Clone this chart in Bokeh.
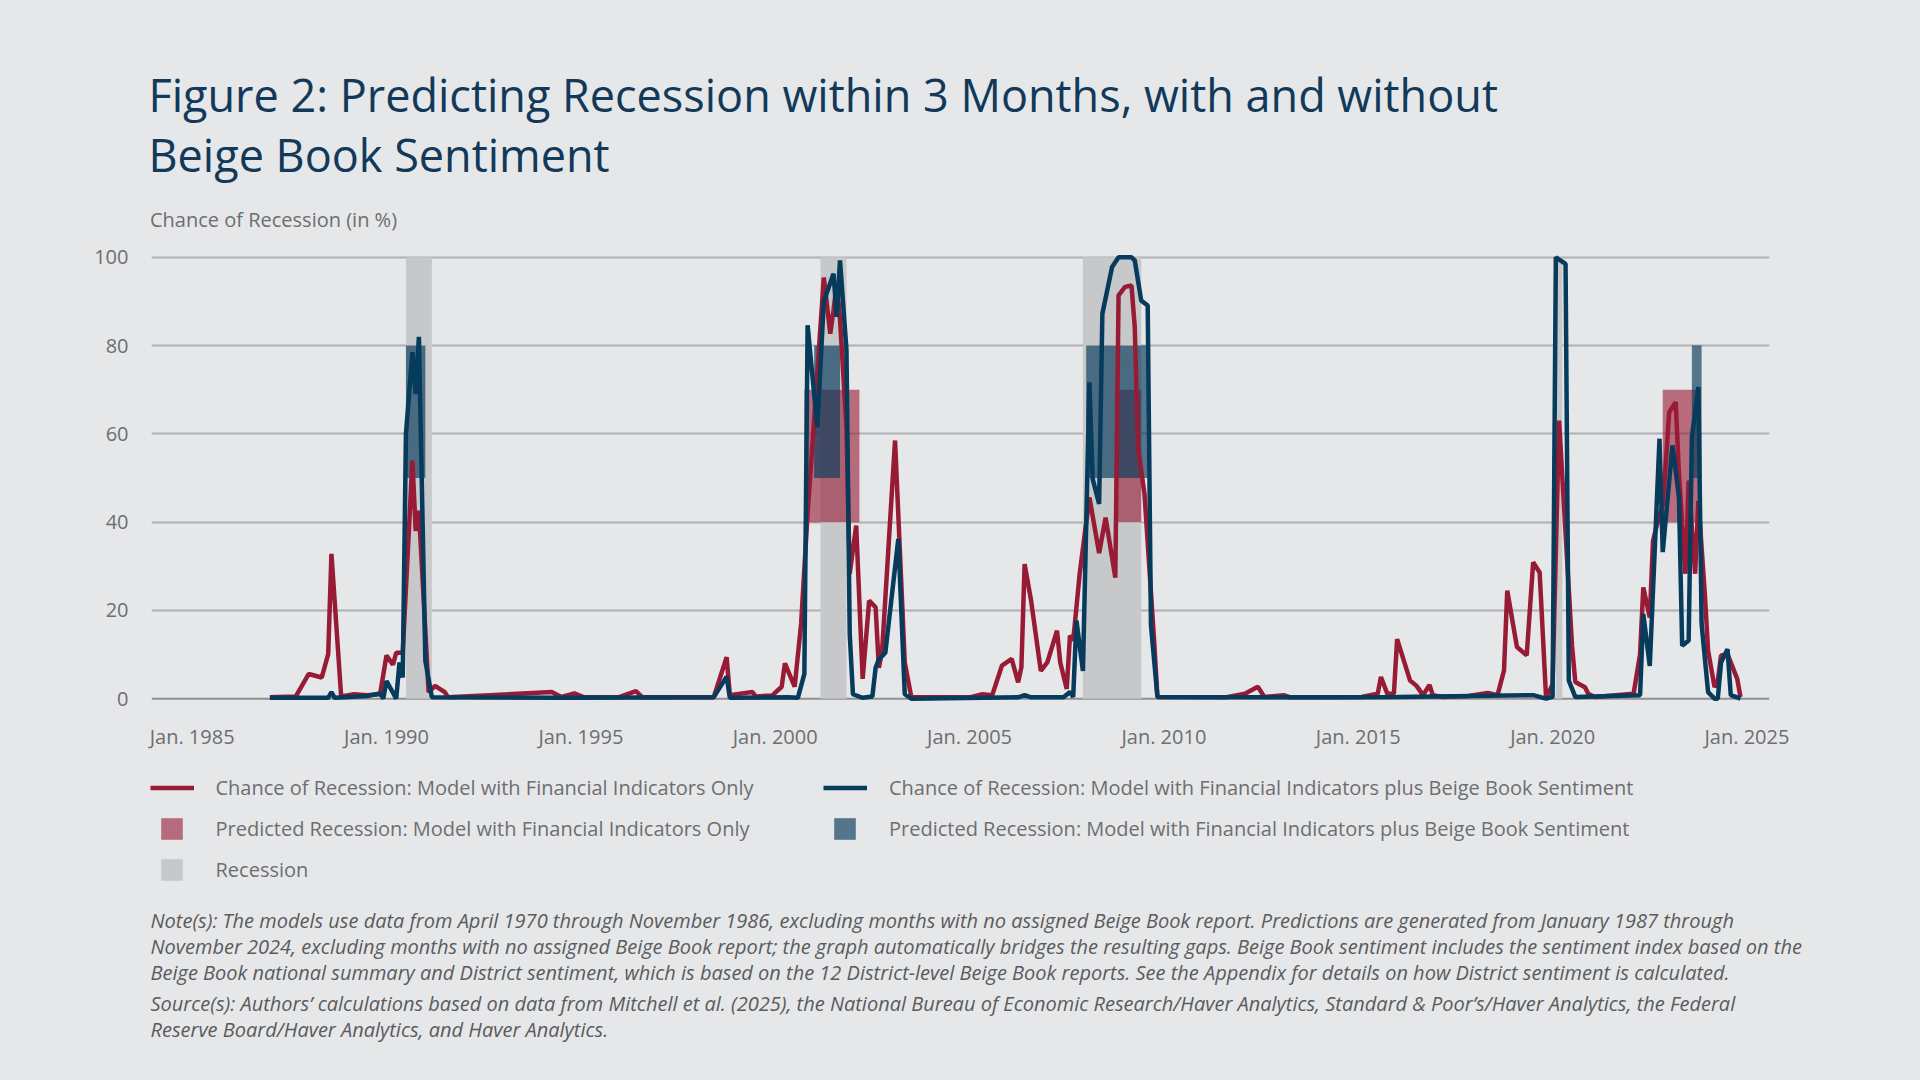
from bokeh.plotting import figure
from bokeh.layouts import column
from bokeh.models import (Range1d, FixedTicker, CustomJSTickFormatter, Span, Label,
                          Legend, LegendItem)
from bokeh.embed import file_html
from bokeh.resources import INLINE

# ---------------- data ----------------
red_dates = ["1987-01","1987-09","1988-01","1988-05","1988-07","1988-08","1988-11","1989-03","1989-07","1989-11",
             "1990-01","1990-03","1990-04","1990-06","1990-09","1990-10","1990-11","1991-02","1991-04","1991-07",
             "1991-08","1994-04","1994-07","1994-11","1995-02","1996-01","1996-06","1996-08","1998-06","1998-10",
             "1998-11","1999-06","1999-07","1999-12","2000-03","2000-04","2000-07","2000-09","2000-11","2001-01",
             "2001-04","2001-06","2001-07","2001-08","2001-09","2001-11","2001-12","2002-02","2002-04","2002-06",
             "2002-08","2002-09","2002-10","2003-02","2003-05","2003-07","2005-01","2005-05","2005-08","2005-11",
             "2006-02","2006-04","2006-05","2006-06","2006-08","2006-11","2007-01","2007-04","2007-05","2007-07",
             "2007-08","2007-09","2007-11","2008-02","2008-05","2008-07","2008-10","2008-11","2009-01","2009-03",
             "2009-04","2009-05","2009-07","2009-10","2009-11","2011-08","2012-02","2012-06","2012-08","2013-02",
             "2013-04","2015-02","2015-07","2015-08","2015-10","2015-12","2016-01","2016-05","2016-07","2016-09",
             "2016-11","2016-12","2017-03","2017-11","2018-05","2018-08","2018-10","2018-11","2019-02","2019-05",
             "2019-07","2019-09","2019-11","2020-01","2020-03","2020-07","2020-08","2020-11","2020-12","2021-02",
             "2022-02","2022-04","2022-05","2022-07","2022-08","2022-09","2022-11","2022-12","2023-01","2023-03",
             "2023-04","2023-06","2023-07","2023-09","2023-10","2023-12","2024-01","2024-03","2024-04","2024-05",
             "2024-07","2024-10","2024-11"]
red_vals = [0.3, 0.5, 5.6, 4.8, 10.1, 32.8, 0.5, 1.0, 0.8, 1.0,
            9.8, 7.7, 10.4, 10.4, 54.0, 38.0, 42.6, 1.5, 2.9, 1.5,
            0.3, 1.5, 0.4, 1.2, 0.3, 0.4, 1.7, 0.3, 0.3, 9.4,
            0.8, 1.5, 0.5, 0.7, 2.7, 8.0, 2.7, 17.0, 41.9, 63.0,
            95.4, 82.7, 88.0, 94.0, 86.0, 61.5, 28.3, 39.2, 4.5, 22.2,
            20.7, 7.0, 10.8, 58.5, 8.2, 0.4, 0.3, 1.0, 0.8, 7.5,
            9.0, 3.7, 7.1, 30.5, 22.2, 6.3, 8.2, 15.4, 8.2, 2.2,
            14.3, 13.2, 28.3, 45.6, 33.0, 41.0, 27.4, 91.4, 93.3, 93.6,
            84.2, 57.0, 46.4, 13.0, 0.4, 0.3, 1.1, 2.7, 0.4, 0.8,
            0.3, 0.4, 1.1, 4.9, 1.1, 1.1, 13.5, 4.1, 2.9, 0.8,
            3.1, 0.8, 0.4, 0.6, 1.3, 0.8, 6.4, 24.5, 11.7, 9.8,
            30.9, 28.6, 0.0, 3.3, 63.0, 12.0, 3.8, 2.6, 1.1, 0.4,
            1.1, 10.1, 25.2, 18.4, 35.8, 38.8, 44.1, 54.0, 64.9, 67.2,
            51.0, 28.3, 49.4, 28.3, 44.8, 23.7, 10.9, 2.6, 4.1, 9.8,
            10.1, 4.5, 0.4]

blue_dates = ["1987-01","1988-07","1988-08","1988-09","1989-07","1989-11","1989-12","1990-01","1990-04","1990-05",
              "1990-06","1990-07","1990-09","1990-10","1990-11","1991-01","1991-03","1994-06","1998-06","1998-10",
              "1998-11","2000-05","2000-08","2000-10","2000-11","2001-02","2001-04","2001-07","2001-08","2001-09",
              "2001-11","2001-12","2002-01","2002-04","2002-07","2002-08","2002-09","2002-11","2003-03","2003-05",
              "2003-07","2006-04","2006-06","2006-08","2007-06","2007-08","2007-09","2007-10","2007-12","2008-02",
              "2008-03","2008-05","2008-06","2008-09","2008-11","2009-01","2009-03","2009-04","2009-06","2009-08",
              "2009-09","2009-11","2015-01","2016-01","2019-07","2019-11","2020-01","2020-02","2020-05","2020-06",
              "2020-08","2022-04","2022-05","2022-07","2022-10","2022-11","2023-02","2023-04","2023-05","2023-07",
              "2023-08","2023-10","2023-11","2024-01","2024-03","2024-04","2024-05","2024-07","2024-08","2024-11"]
blue_vals = [0.2, 0.2, 1.5, 0.2, 0.6, 1.2, 0.0, 4.0, 0.0, 8.2,
             4.8, 60.0, 78.5, 69.0, 82.0, 8.5, 0.3, 0.2, 0.3, 5.0,
             0.2, 0.3, 0.2, 5.6, 84.6, 61.5, 90.0, 96.3, 86.5, 99.3,
             79.0, 14.7, 1.0, 0.2, 0.5, 7.0, 8.9, 10.4, 36.2, 1.0,
             0.0, 0.3, 0.8, 0.3, 0.3, 1.5, 0.4, 17.7, 6.3, 71.7,
             49.8, 44.1, 87.2, 97.8, 100.0, 100.0, 100.0, 99.3, 90.2, 89.1,
             16.7, 0.4, 0.3, 0.4, 0.8, 0.0, 0.4, 100.0, 98.5, 4.1,
             0.4, 0.8, 19.2, 7.4, 58.9, 33.2, 57.4, 45.7, 12.0, 13.2,
             59.3, 70.6, 16.9, 1.5, 0.0, 0.0, 8.2, 11.2, 0.8, 0.0]

recession_start = ["1990-07", "2001-03", "2007-12", "2020-02"]
recession_end = ["1991-03", "2001-11", "2009-06", "2020-04"]

pred_fin_start = ["2000-10", "2008-10", "2022-11"]
pred_fin_end = ["2002-03", "2009-06", "2023-10"]
pred_fin_band = (40, 70)

pred_bb_start = ["1990-07", "2001-01", "2008-01", "2023-08"]
pred_bb_end = ["1991-01", "2001-09", "2009-08", "2023-11"]
pred_bb_band = (50, 80)

x_tick_years = [1985, 1990, 1995, 2000, 2005, 2010, 2015, 2020, 2025]
y_ticks = [0, 20, 40, 60, 80, 100]

title_lines = ["Figure 2: Predicting Recession within 3 Months, with and without",
               "Beige Book Sentiment"]
y_title = "Chance of Recession (in %)"
legend_labels = ["Chance of Recession: Model with Financial Indicators Only",
                 "Chance of Recession: Model with Financial Indicators plus Beige Book Sentiment",
                 "Predicted Recession: Model with Financial Indicators Only",
                 "Predicted Recession: Model with Financial Indicators plus Beige Book Sentiment",
                 "Recession"]
note_lines = [
    "Note(s): The models use data from April 1970 through November 1986, excluding months with no assigned Beige Book report. Predictions are generated from January 1987 through",
    "November 2024, excluding months with no assigned Beige Book report; the graph automatically bridges the resulting gaps. Beige Book sentiment includes the sentiment index based on the",
    "Beige Book national summary and District sentiment, which is based on the 12 District-level Beige Book reports. See the Appendix for details on how District sentiment is calculated.",
]
source_lines = [
    "Source(s): Authors\u2019 calculations based on data from Mitchell et al. (2025), the National Bureau of Economic Research/Haver Analytics, Standard & Poor\u2019s/Haver Analytics, the Federal",
    "Reserve Board/Haver Analytics, and Haver Analytics.",
]


def dec(d):
    y, m = d.split("-")
    return int(y) + (int(m) - 1) / 12.0


red_x = [dec(d) for d in red_dates]
blue_x = [dec(d) for d in blue_dates]
rec_l = [dec(d) for d in recession_start]
rec_r = [dec(d) for d in recession_end]
pf_l = [dec(d) for d in pred_fin_start]
pf_r = [dec(d) for d in pred_fin_end]
pb_l = [dec(d) for d in pred_bb_start]
pb_r = [dec(d) for d in pred_bb_end]

# ---------------- styling ----------------
BG = "#e6e7e8"
RED = "#981b36"
BLUE = "#073b5c"
REC = "#c7c8ca"
GRAY_TXT = "#6d6e71"
NOTE_TXT = "#5a5b5d"
TITLE_TXT = "#12395a"
FONT = "Open Sans"
LW = 4.5

W = 1904
H_TOP, H_MAIN, H_BOT = 240, 522, 302


def prep(f):
    try:
        f.frame_align = False
    except Exception:
        pass
    try:
        f.styles = {"background-color": BG}
    except Exception:
        pass


def text_fig(h):
    f = figure(width=W, height=h, output_backend="svg", toolbar_location=None, title=None,
               x_range=Range1d(0, W), y_range=Range1d(h, 0),
               x_axis_type=None, y_axis_type=None, min_border=0,
               background_fill_color=BG, border_fill_color=BG, outline_line_color=None)
    prep(f)
    return f


def add_text(f, txt, x, y, size, color, style="normal"):
    # y is the vertical centre of the text line
    f.add_layout(Label(x=x, y=y, text=txt, text_font=FONT, text_font_size=size,
                       text_color=color, text_font_style=style, text_baseline="middle",
                       text_align="left"))


# ---------------- top: titles ----------------
top = text_fig(H_TOP)
add_text(top, title_lines[0], 148, 93.7, "45px", TITLE_TXT)
add_text(top, title_lines[1], 148, 153.7, "45px", TITLE_TXT)
add_text(top, y_title, 149.5, 219.0, "20px", GRAY_TXT)

# ---------------- main chart ----------------
X0, X1 = 1983.954, 2025.58
Y0, Y1 = -2, 102
FL, FR = 151, 1769
FT = 248 - H_TOP
FB = 707 - H_TOP

p = figure(width=W, height=H_MAIN, output_backend="svg", toolbar_location=None, title=None,
           x_range=Range1d(X0, X1), y_range=Range1d(Y0, Y1),
           min_border_left=FL, min_border_right=W - FR, min_border_top=FT,
           min_border_bottom=H_MAIN - FB,
           background_fill_color=BG, border_fill_color=BG, outline_line_color=None)
prep(p)

p.quad(left=rec_l, right=rec_r, bottom=0, top=100, fill_color=REC, line_color=None)
p.quad(left=pf_l, right=pf_r, bottom=pred_fin_band[0], top=pred_fin_band[1],
       fill_color=RED, fill_alpha=0.6, line_color=None)
p.quad(left=pb_l, right=pb_r, bottom=pred_bb_band[0], top=pred_bb_band[1],
       fill_color=BLUE, fill_alpha=0.66, line_color=None)
p.line(red_x, red_vals, line_color=RED, line_width=LW)
p.line(blue_x, blue_vals, line_color=BLUE, line_width=LW)

p.xgrid.visible = False
p.ygrid.ticker = FixedTicker(ticks=y_ticks[1:])
p.ygrid.grid_line_color = "#aeb0b3"
p.ygrid.grid_line_width = 2
p.add_layout(Span(location=0, dimension="width", line_color="#8f9194", line_width=2, level="underlay"))

for ax in (p.xaxis[0], p.yaxis[0]):
    ax.axis_line_color = None
    ax.major_tick_line_color = None
    ax.minor_tick_line_color = None
    ax.major_tick_out = 0
    ax.major_tick_in = 0
    ax.major_label_text_font = FONT
    ax.major_label_text_font_size = "20px"
    ax.major_label_text_color = GRAY_TXT
p.xaxis.ticker = FixedTicker(ticks=x_tick_years)
p.xaxis.formatter = CustomJSTickFormatter(code="return 'Jan. ' + Math.round(tick);")
p.xaxis.major_label_standoff = 15
p.yaxis.ticker = FixedTicker(ticks=y_ticks)
p.yaxis.major_label_standoff = 23

# ---------------- bottom: legend + notes ----------------
bot = text_fig(H_BOT)
OFF = H_TOP + H_MAIN
# legend swatch sources (hidden renderers holding the same data)
b_red = bot.line(red_x, red_vals, line_color=RED, line_width=LW, visible=False)
b_blue = bot.line(blue_x, blue_vals, line_color=BLUE, line_width=LW, visible=False)
b_pf = bot.quad(left=pf_l, right=pf_r, bottom=pred_fin_band[0], top=pred_fin_band[1],
                fill_color=RED, fill_alpha=0.6, line_color=None, visible=False)
b_pb = bot.quad(left=pb_l, right=pb_r, bottom=pred_bb_band[0], top=pred_bb_band[1],
                fill_color=BLUE, fill_alpha=0.66, line_color=None, visible=False)
b_rec = bot.quad(left=rec_l, right=rec_r, bottom=0, top=100, fill_color=REC, line_color=None,
                 visible=False)

ROW1 = 787 - OFF
ROW2 = 828 - OFF
GH, SP = 27, 14


def legend_at(items, left, top_y, gw, standoff):
    n = len(items)
    h = n * GH + (n - 1) * SP
    vy = H_BOT - top_y - h
    return Legend(items=items, location=(left, vy), glyph_width=gw, glyph_height=GH, label_height=GH,
                  label_standoff=standoff, padding=0, margin=0, spacing=SP,
                  border_line_color=None, background_fill_alpha=0, inactive_fill_alpha=0,
                  label_text_font=FONT, label_text_font_size="20px", label_text_color=GRAY_TXT)


TXT1 = 215.5
TXT2 = 889
bot.add_layout(legend_at([LegendItem(label=legend_labels[0], renderers=[b_red])],
                         TXT1 - 22 - 44, ROW1 - GH / 2, 44, 22))
bot.add_layout(legend_at([LegendItem(label=legend_labels[2], renderers=[b_pf]),
                          LegendItem(label=legend_labels[4], renderers=[b_rec])],
                         TXT1 - 31 - 27, ROW2 - GH / 2, 27, 31))
bot.add_layout(legend_at([LegendItem(label=legend_labels[1], renderers=[b_blue])],
                         TXT2 - 22 - 44, ROW1 - GH / 2, 44, 22))
bot.add_layout(legend_at([LegendItem(label=legend_labels[3], renderers=[b_pb])],
                         TXT2 - 31 - 27, ROW2 - GH / 2, 27, 31))

for i, t in enumerate(note_lines):
    add_text(bot, t, 150, 919.6 + i * 26.3 - OFF, "20px", NOTE_TXT, "italic")
for i, t in enumerate(source_lines):
    add_text(bot, t, 150, 1002.9 + i * 26.3 - OFF, "20px", NOTE_TXT, "italic")

root = column(top, p, bot, spacing=0)
try:
    root.styles = {"background-color": BG}
except Exception:
    pass
html = file_html(root, INLINE)
html = html.replace("</head>", "<style>html,body{background-color:%s;}</style></head>" % BG, 1)
open("out.html", "w").write(html)
